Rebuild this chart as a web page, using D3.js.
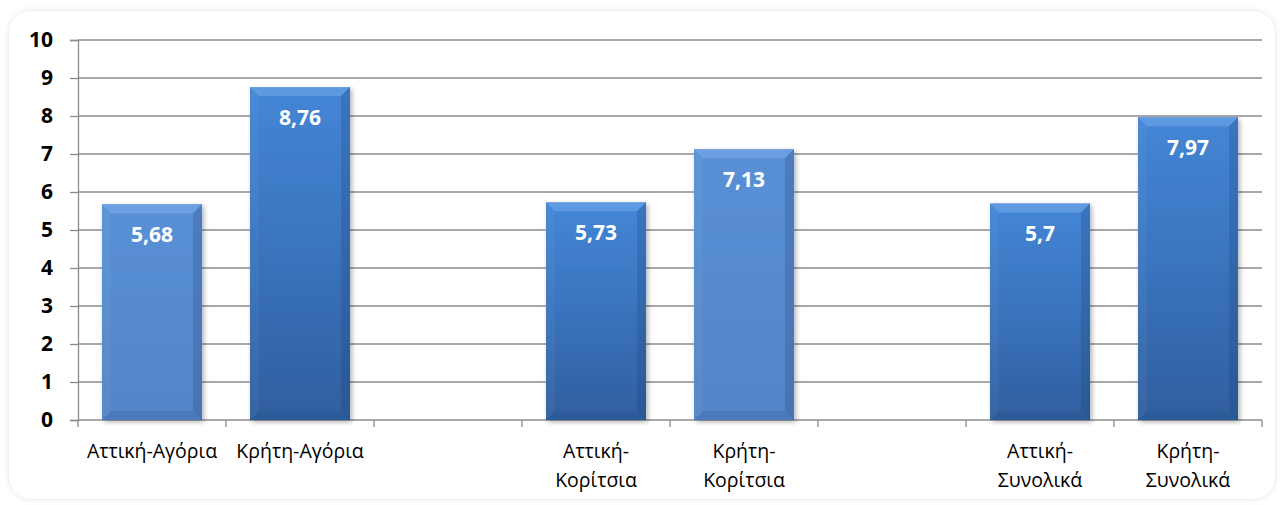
<!DOCTYPE html>
<html><head><meta charset="utf-8">
<script src="https://cdn.jsdelivr.net/npm/d3@7"></script>
<style>body{margin:0;background:#fff;} svg{display:block;}</style>
</head><body>
<script>
const categories = ["Αττική-Αγόρια","Κρήτη-Αγόρια","gap1","Αττική-\nΚορίτσια","Κρήτη-\nΚορίτσια","gap2","Αττική-\nΣυνολικά","Κρήτη-\nΣυνολικά"];
const values = [5.68, 8.76, null, 5.73, 7.13, null, 5.7, 7.97];
const valueLabels = ["5,68","8,76","","5,73","7,13","","5,7","7,97"];
const shade = ["light","dark",null,"dark","light",null,"dark","dark"];
const yTicks = [0,1,2,3,4,5,6,7,8,9,10];

const W = 1284, H = 505;
const m = {left:78, right:22, top:40, bottom:85};
const svg = d3.select("body").append("svg").attr("width",W).attr("height",H);
const defs = svg.append("defs");

const f = defs.append("filter").attr("id","shadow").attr("x","-20%").attr("y","-20%").attr("width","140%").attr("height","140%");
f.append("feDropShadow").attr("dx",2).attr("dy",2).attr("stdDeviation",2.5).attr("flood-color","#000").attr("flood-opacity",0.3);
const ff = defs.append("filter").attr("id","fshadow").attr("x","-5%").attr("y","-5%").attr("width","110%").attr("height","110%");
ff.append("feDropShadow").attr("dx",0).attr("dy",0).attr("stdDeviation",3).attr("flood-color","#000").attr("flood-opacity",0.07);

function grad(id, stops, x2, y2){
  const g = defs.append("linearGradient").attr("id",id).attr("x1",0).attr("y1",0).attr("x2",x2).attr("y2",y2);
  stops.forEach(s=>g.append("stop").attr("offset",s[0]).attr("stop-color",s[1]));
}
grad("g-dark", [[0,"#4486d6"],[0.5,"#3a73bd"],[1,"#2f5f9f"]], 0, 1);
grad("g-light", [[0,"#5a90d6"],[1,"#5285c8"]], 0, 1);

// frame
svg.append("rect").attr("x",8.5).attr("y",10.5).attr("width",W-17).attr("height",H-16)
  .attr("rx",22).attr("fill","#fff").attr("stroke","#eeeeee").attr("filter","url(#fshadow)");

const x = d3.scaleBand().domain(categories).range([m.left, W-m.right]).paddingInner(0.324).paddingOuter(0.162);
const y = d3.scaleLinear().domain([0,10]).range([H-m.bottom, m.top]);

// gridlines
svg.append("g").selectAll("line").data(yTicks.filter(d=>d>0)).join("line")
  .attr("x1",m.left).attr("x2",W-m.right).attr("y1",d=>y(d)).attr("y2",d=>y(d))
  .attr("stroke","#8c8c8c").attr("stroke-width",1.3);

// y axis
const ya = svg.append("g").attr("transform",`translate(${m.left},0)`)
  .call(d3.axisLeft(y).tickValues(yTicks).tickSize(8).tickPadding(17).tickFormat(d3.format("d")));
ya.select(".domain").attr("stroke","#8c8c8c").attr("stroke-width",1.3);
ya.selectAll(".tick line").attr("stroke","#8c8c8c").attr("stroke-width",1.3);
ya.selectAll("text").attr("font-family","'Open Sans', sans-serif").attr("font-weight","bold").attr("font-size",21).attr("fill","#000");

// x axis with boundary ticks
const step = x.step();
const xa = svg.append("g").attr("transform",`translate(0,${y(0)})`);
xa.append("line").attr("x1",m.left).attr("x2",W-m.right).attr("stroke","#8c8c8c").attr("stroke-width",1.3);
xa.selectAll(".bt").data(d3.range(categories.length+1)).join("line").attr("class","bt")
  .attr("x1",i=>m.left+i*step).attr("x2",i=>m.left+i*step).attr("y1",0).attr("y2",7)
  .attr("stroke","#8c8c8c").attr("stroke-width",1.3);
xa.selectAll(".lbl").data(categories.filter(c=>!c.startsWith("gap"))).join("text").attr("class","lbl")
  .attr("x",c=>x(c)+x.bandwidth()/2).attr("text-anchor","middle")
  .attr("font-family","'Open Sans', sans-serif").attr("font-size",19.5).attr("fill","#000")
  .each(function(c){
    const lines = c.split("\n");
    d3.select(this).selectAll("tspan").data(lines).join("tspan")
      .attr("x",x(c)+x.bandwidth()/2).attr("y",(d,i)=>38+i*29).text(d=>d);
  });

// bars
const data = categories.map((c,i)=>({c, v:values[i], lab:valueLabels[i], s:shade[i]})).filter(d=>d.v!=null);
const bw = x.bandwidth();
const bars = svg.append("g").selectAll("g").data(data).join("g");
bars.append("rect").attr("x",d=>x(d.c)).attr("y",d=>y(d.v)).attr("width",bw).attr("height",d=>y(0)-y(d.v))
  .attr("fill",d=>`url(#g-${d.s})`).attr("filter","url(#shadow)");
const bev = 9;
bars.append("path").attr("d",d=>{const x0=x(d.c),y0=y(d.v);return `M${x0},${y0}L${x0+bw},${y0}L${x0+bw-bev},${y0+bev}L${x0+bev},${y0+bev}Z`;})
  .attr("fill","#8fc0f5").attr("opacity",0.35);
bars.append("path").attr("d",d=>{const x0=x(d.c),y1=y(0);return `M${x0},${y1}L${x0+bw},${y1}L${x0+bw-bev},${y1-bev}L${x0+bev},${y1-bev}Z`;})
  .attr("fill","#1f4679").attr("opacity",0.18);
bars.append("path").attr("d",d=>{const x0=x(d.c),y0=y(d.v),y1=y(0);return `M${x0},${y0}L${x0+bev},${y0+bev}L${x0+bev},${y1-bev}L${x0},${y1}Z`;})
  .attr("fill","#ffffff").attr("opacity",0.04);
bars.append("path").attr("d",d=>{const x0=x(d.c)+bw,y0=y(d.v),y1=y(0);return `M${x0},${y0}L${x0-bev},${y0+bev}L${x0-bev},${y1-bev}L${x0},${y1}Z`;})
  .attr("fill","#1a3d6b").attr("opacity",0.22);
bars.append("text").attr("x",d=>x(d.c)+bw/2).attr("y",d=>y(d.v)+38).attr("text-anchor","middle")
  .attr("font-family","'Open Sans', sans-serif").attr("font-weight","bold").attr("font-size",21).attr("fill","#fff")
  .text(d=>d.lab);
</script>
</body></html>
